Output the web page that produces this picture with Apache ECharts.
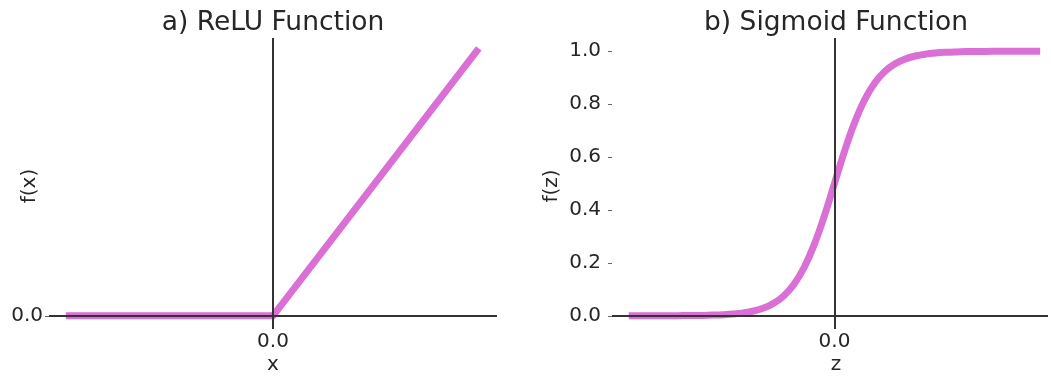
<!DOCTYPE html>
<html>
<head>
<meta charset="utf-8">
<script src="https://cdn.jsdelivr.net/npm/echarts@6/dist/echarts.min.js"></script>
<style>
html,body{margin:0;padding:0;background:#fff;}
#c{width:1051px;height:376px;}
</style>
</head>
<body>
<div id="c"></div>
<script>
// ---- data ----
var reluX = [-10, 0, 10];
var reluY = [0, 0, 10];
var sigZ = [-10, -9.5, -9, -8.5, -8, -7.5, -7, -6.5, -6, -5.5, -5, -4.5, -4, -3.5, -3, -2.5, -2, -1.5, -1, -0.5, 0, 0.5, 1, 1.5, 2, 2.5, 3, 3.5, 4, 4.5, 5, 5.5, 6, 6.5, 7, 7.5, 8, 8.5, 9, 9.5, 10];
var sigF = [0.0000, 0.0001, 0.0001, 0.0002, 0.0003, 0.0006, 0.0009, 0.0015, 0.0025, 0.0041, 0.0067, 0.0110, 0.0180, 0.0293, 0.0474, 0.0759, 0.1192, 0.1824, 0.2689, 0.3775, 0.5000, 0.6225, 0.7311, 0.8176, 0.8808, 0.9241, 0.9526, 0.9707, 0.9820, 0.9890, 0.9933, 0.9959, 0.9975, 0.9985, 0.9991, 0.9994, 0.9997, 0.9998, 0.9999, 0.9999, 1.0000];
var xTicks = [0];
var reluYTicks = [0];
var sigYTicks = [0, 0.2, 0.4, 0.6, 0.8, 1.0];
var titles = ['a) ReLU Function', 'b) Sigmoid Function'];
var xNames = ['x', 'z'];
var yNames = ['f(x)', 'f(z)'];

function pairs(a, b) { return a.map(function (v, i) { return [v, b[i]]; }); }

var FONT = 'DejaVu Sans';
var TXT = '#262626';
var PINK = '#DA70D6';
var AX = '#333333';

var grids = [
  {left: 49, top: 38, width: 448, height: 291},
  {left: 612, top: 38, width: 439, height: 291}
];

function xAxisCfg(i, max) {
  return {
    type: 'value', gridIndex: i, min: -11, max: max, interval: 11,
    axisLine: {show: false, onZero: false}, splitLine: {show: false}, axisTick: {show: false},
    axisLabel: {
      fontFamily: FONT, fontSize: 20, color: TXT, margin: 3,
      showMinLabel: true, showMaxLabel: true,
      formatter: function (v) { return xTicks.indexOf(v) >= 0 ? v.toFixed(1) : ''; }
    }
  };
}
function yAxisCfg(i, min, max, ticks, margin) {
  return {
    type: 'value', gridIndex: i, min: min, max: max,
    axisLine: {show: false, onZero: false}, splitLine: {show: false},
    axisTick: {show: true, length: 4, customValues: ticks, lineStyle: {color: '#666', width: 1}},
    axisLabel: {
      fontFamily: FONT, fontSize: 20, color: TXT, margin: margin, customValues: ticks,
      formatter: function (v) { return Number(v).toFixed(1); }
    }
  };
}
function zeroLines() {
  return {
    symbol: 'none', silent: true, animation: false, z: 5,
    label: {show: false},
    lineStyle: {color: AX, width: 2, type: 'solid'},
    emphasis: {disabled: true},
    data: [{xAxis: 0}, {yAxis: 0}]
  };
}

var graphics = [];
var centers = [273, 836];
for (var i = 0; i < 2; i++) {
  graphics.push({type: 'text', x: centers[i], y: 23, style: {text: titles[i], font: '26.5px "' + FONT + '"', fill: TXT, textAlign: 'center', textVerticalAlign: 'middle'}});
  graphics.push({type: 'text', x: centers[i], y: 365, style: {text: xNames[i], font: '20px "' + FONT + '"', fill: TXT, textAlign: 'center', textVerticalAlign: 'middle'}});
}
graphics.push({type: 'text', x: 30, y: 186, rotation: Math.PI / 2, style: {text: yNames[0], font: '20px "' + FONT + '"', fill: TXT, textAlign: 'center', textVerticalAlign: 'middle'}});
graphics.push({type: 'text', x: 552, y: 186, rotation: Math.PI / 2, style: {text: yNames[1], font: '20px "' + FONT + '"', fill: TXT, textAlign: 'center', textVerticalAlign: 'middle'}});

var chart = echarts.init(document.getElementById('c'), null, {renderer: 'canvas'});
chart.setOption({
  animation: false,
  backgroundColor: '#fff',
  grid: grids,
  xAxis: [xAxisCfg(0, 11), xAxisCfg(1, 10.56)],
  yAxis: [yAxisCfg(0, -0.5, 10.5, reluYTicks, 6), yAxisCfg(1, -0.05, 1.05, sigYTicks, 11)],
  graphic: graphics,
  series: [
    {
      type: 'line', xAxisIndex: 0, yAxisIndex: 0, data: pairs(reluX, reluY),
      symbol: 'none', z: 2,
      lineStyle: {color: PINK, width: 7, cap: 'square', join: 'miter'},
      markLine: zeroLines()
    },
    {
      type: 'line', xAxisIndex: 1, yAxisIndex: 1, data: pairs(sigZ, sigF),
      symbol: 'none', z: 2, smooth: 0.4,
      lineStyle: {color: PINK, width: 7, cap: 'square', join: 'round'},
      markLine: zeroLines()
    }
  ]
});
</script>
</body>
</html>
